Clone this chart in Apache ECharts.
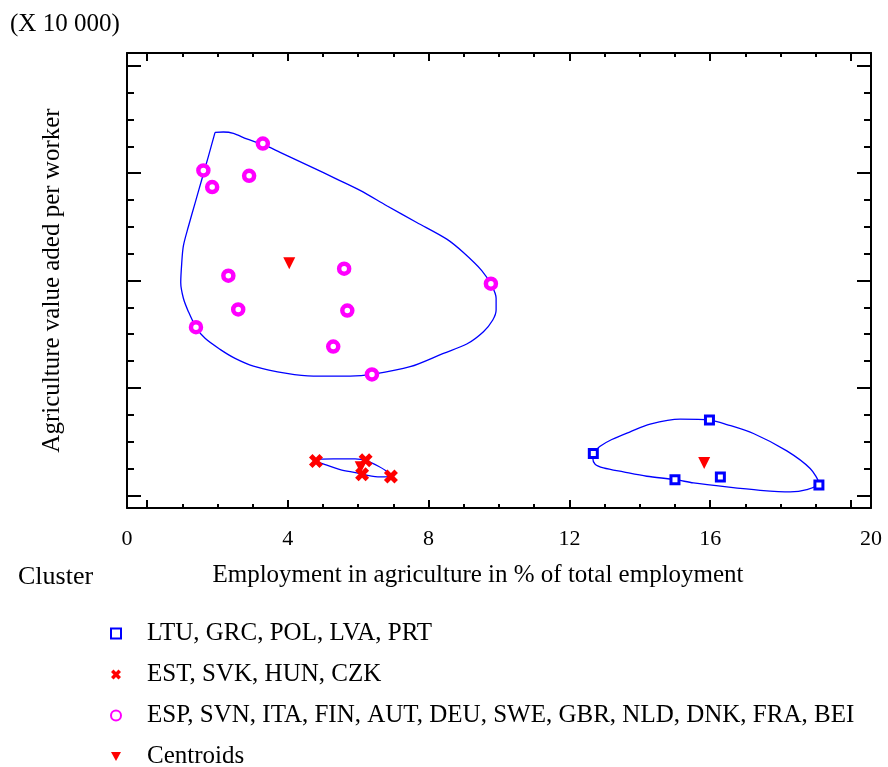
<!DOCTYPE html>
<html>
<head>
<meta charset="utf-8">
<script src="https://cdn.jsdelivr.net/npm/echarts@6/dist/echarts.min.js"></script>
<style>html,body{margin:0;padding:0;background:#fff}#c{width:888px;height:767px}</style>
</head>
<body>
<div id="c"></div>
<script>
// ---------- data ----------
const xTickValues = [0, 4, 8, 12, 16, 20];
const xTickLabels = ['0', '4', '8', '12', '16', '20'];
const xMinorTicks = [1, 2, 3, 5, 6, 7, 9, 10, 11, 13, 14, 15, 17, 18, 19];
const yTickValues = [0, 2, 4, 6, 8];
const yMinorTicks = [0.5, 1, 1.5, 2.5, 3, 3.5, 4.5, 5, 5.5, 6.5, 7, 7.5];

const seriesNames = [
  'LTU, GRC, POL, LVA, PRT',
  'EST, SVK, HUN, CZK',
  'ESP, SVN, ITA, FIN, AUT, DEU, SWE, GBR, NLD, DNK, FRA, BEI',
  'Centroids'
];

const cluster1X = [12.68, 15.98, 15.00, 16.29, 19.09];
const cluster1Y = [0.78, 1.40, 0.29, 0.34, 0.19];

const cluster2X = [4.80, 6.21, 6.11, 6.93];
const cluster2Y = [0.64, 0.65, 0.39, 0.35];

const cluster3X = [3.29, 1.60, 1.85, 2.90, 2.31, 5.60, 2.59, 5.69, 1.39, 5.29, 6.39, 9.77];
const cluster3Y = [6.55, 6.05, 5.74, 5.95, 4.09, 4.22, 3.46, 3.44, 3.13, 2.77, 2.25, 3.94];

const centroidX = [15.83, 6.07, 4.04];
const centroidY = [0.60, 0.52, 4.32];

// contour outlines (closed curves)
const contour1X = [12.684, 12.873, 13.205, 13.726, 14.294, 15.146, 15.999, 16.473, 17.230, 18.178, 18.841, 19.087, 18.746, 18.273, 17.420, 16.473, 15.525, 15.004, 14.199, 13.536, 12.968, 12.731, 12.665, 12.684];
const contour1Y = [0.790, 0.914, 1.039, 1.182, 1.325, 1.418, 1.399, 1.318, 1.151, 0.827, 0.498, 0.218, 0.106, 0.062, 0.093, 0.155, 0.230, 0.292, 0.354, 0.435, 0.510, 0.578, 0.696, 0.790];

const contour2X = [4.802, 5.295, 5.911, 6.242, 6.574, 6.830, 6.905, 6.621, 6.242, 5.958, 5.485, 5.106, 4.822, 4.802];
const contour2Y = [0.672, 0.678, 0.678, 0.641, 0.541, 0.435, 0.354, 0.342, 0.373, 0.417, 0.479, 0.560, 0.634, 0.672];

const contour3X = [1.932, 2.169, 2.453, 2.832, 3.306, 3.780, 4.632, 5.390, 6.053, 6.811, 7.663, 8.516, 8.989, 9.510, 9.794, 9.918, 9.918, 9.823, 9.558, 9.084, 8.421, 7.474, 6.432, 5.769, 4.727, 3.969, 3.022, 2.501, 2.074, 1.648, 1.392, 1.175, 1.032, 0.957, 0.985, 1.032, 1.175, 1.364, 1.553, 1.743, 1.932];
const contour3Y = [6.760, 6.766, 6.741, 6.636, 6.530, 6.387, 6.126, 5.889, 5.678, 5.392, 5.081, 4.770, 4.521, 4.185, 3.905, 3.669, 3.451, 3.265, 3.047, 2.817, 2.643, 2.394, 2.257, 2.220, 2.220, 2.270, 2.407, 2.550, 2.718, 2.923, 3.128, 3.420, 3.669, 3.961, 4.322, 4.646, 5.006, 5.442, 5.877, 6.312, 6.760];

// ---------- chart ----------
const zip = (xs, ys) => xs.map((x, i) => [x, ys[i]]);
const xMin = -0.57, xMax = 20.57, yMin = -0.237, yMax = 8.237;
const xLabelPos = [xMin, 4, 8, 12, 16, xMax];
const FONT = 'Liberation Serif';
const BLUE = '#0000ff', RED = '#ff0000', MAG = '#ff00ff';
const crossPath = 'path://M0,2.5 L2.5,0 L5,2.5 L7.5,0 L10,2.5 L7.5,5 L10,7.5 L7.5,10 L5,7.5 L2.5,10 L0,7.5 L2.5,5 Z';
const triPath = 'path://M0,0 L10,0 L5,9 Z';

function xAx(pos, ticks, len, showLine, showLabel) {
  return {
    type: 'value', position: pos, min: xMin, max: xMax,
    axisLine: { show: showLine, onZero: false, lineStyle: { color: '#000', width: 2 } },
    axisTick: { show: true, inside: true, length: len, customValues: ticks, lineStyle: { color: '#000', width: 2 } },
    axisLabel: showLabel ? {
      show: true, customValues: xLabelPos, margin: 20, color: '#000', fontFamily: FONT, fontSize: 22,
      formatter: function (v) {
        let best = 0;
        for (let i = 1; i < xLabelPos.length; i++) if (Math.abs(xLabelPos[i] - v) < Math.abs(xLabelPos[best] - v)) best = i;
        return xTickLabels[best];
      }
    } : { show: false },
    splitLine: { show: false }
  };
}
function yAx(pos, ticks, len, showLine) {
  return {
    type: 'value', position: pos, min: yMin, max: yMax,
    axisLine: { show: showLine, onZero: false, lineStyle: { color: '#000', width: 2 } },
    axisTick: { show: true, inside: true, length: len, customValues: ticks, lineStyle: { color: '#000', width: 2 } },
    axisLabel: { show: false },
    splitLine: { show: false }
  };
}

const xAxes = [
  xAx('bottom', xTickValues, 8, true, true),
  xAx('bottom', xMinorTicks, 4, false, false),
  xAx('top', xTickValues, 8, true, false),
  xAx('top', xMinorTicks, 4, false, false)
];
xAxes[0].name = 'Employment in agriculture in % of total employment';
xAxes[0].nameLocation = 'middle';
xAxes[0].nameGap = 55;
xAxes[0].nameTextStyle = { fontFamily: FONT, fontSize: 25, color: '#000', padding: [0, 42, 0, 0] };

const yAxes = [
  yAx('left', yTickValues, 14, true),
  yAx('left', yMinorTicks, 7, false),
  yAx('right', yTickValues, 14, true),
  yAx('right', yMinorTicks, 7, false)
];
yAxes[0].name = 'Agriculture value aded per worker';
yAxes[0].nameLocation = 'middle';
yAxes[0].nameGap = 62;
yAxes[0].nameTextStyle = { fontFamily: FONT, fontSize: 25, color: '#000' };

const contourStyle = { color: BLUE, width: 1.3 };
function contour(xs, ys) {
  return { type: 'line', data: zip(xs, ys), symbol: 'none', smooth: 0.3, lineStyle: contourStyle, silent: true, z: 1, animation: false };
}

const chart = echarts.init(document.getElementById('c'), null, { renderer: 'canvas' });
chart.setOption({
  backgroundColor: '#fff',
  animation: false,
  grid: { left: 127, right: 17, top: 53, bottom: 259, containLabel: false },
  xAxis: xAxes,
  yAxis: yAxes,
  legend: {
    orient: 'vertical', left: 110, top: 621, height: 220, itemGap: 16, itemWidth: 10, itemHeight: 10, padding: 0,
    data: seriesNames,
    textStyle: { fontFamily: FONT, fontSize: 25, color: '#000', padding: [0, 0, 0, 21] }
  },
  graphic: [
    { type: 'text', left: 10, top: 12, style: { text: '(X 10 000)', font: '25px "Liberation Serif"', fill: '#000' } },
    { type: 'text', left: 18, top: 564, style: { text: 'Cluster', font: '26px "Liberation Serif"', fill: '#000' } }
  ],
  series: [
    contour(contour1X, contour1Y),
    contour(contour2X, contour2Y),
    contour(contour3X, contour3Y),
    { name: seriesNames[0], type: 'scatter', data: zip(cluster1X, cluster1Y), symbol: 'rect', symbolSize: 8,
      itemStyle: { color: '#fff', borderColor: BLUE, borderWidth: 3, opacity: 1 }, z: 3 },
    { name: seriesNames[1], type: 'scatter', data: zip(cluster2X, cluster2Y), symbol: crossPath, symbolSize: 14,
      itemStyle: { color: RED, opacity: 1 }, z: 3 },
    { name: seriesNames[2], type: 'scatter', data: zip(cluster3X, cluster3Y), symbol: 'circle', symbolSize: 10,
      itemStyle: { color: '#fff', borderColor: MAG, borderWidth: 4.5, opacity: 1 }, z: 3 },
    { name: seriesNames[3], type: 'scatter', data: zip(centroidX, centroidY), symbol: triPath, symbolSize: 12,
      itemStyle: { color: RED, opacity: 1 }, z: 4 }
  ]
});
</script>
</body>
</html>
